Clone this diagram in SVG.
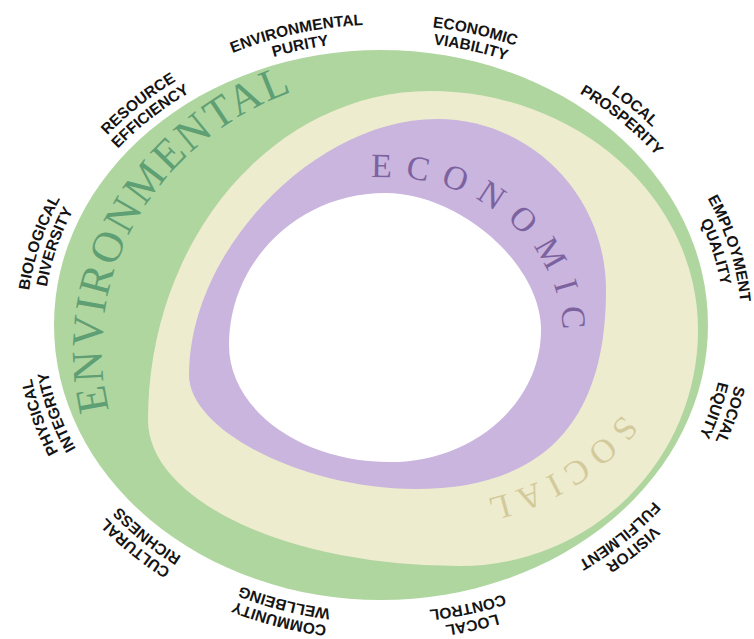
<svg xmlns="http://www.w3.org/2000/svg" width="754" height="639" viewBox="0 0 754 639">
<style>
.lbl{font-family:"Liberation Sans",Arial,sans-serif;font-weight:bold;font-size:15.5px;fill:#141414;text-anchor:middle}
.big{font-family:"Liberation Serif","Times New Roman",serif}
.env{font-size:44px;fill:#5f9f74;letter-spacing:2px}
.eco{font-size:34px;fill:#7d62a0;letter-spacing:13px}
.soc{font-size:34px;fill:#d3ca9c;letter-spacing:8px}
</style>
<defs>
<path id="p-env" d="M109,410 A298,277 0 0 1 400,73"/>
<path id="p-eco" d="M371,177.6 A178,158 0 0 1 563,335 A178,158 0 0 1 385,493"/>
<path id="p-soc" d="M622,414 A240,188 0 0 1 415,508 A240,188 0 0 1 175,320"/>
<path id="a1o" d="M91.5,153.8 A357,302 0 0 1 534.9,53.3"/>
<path id="a1i" d="M103.8,162.4 A342,287 0 0 1 528.5,66.9"/>
<path id="a2o" d="M236.5,52 A357,302 0 0 1 678.6,156.4"/>
<path id="a2i" d="M242.7,65.6 A342,287 0 0 1 666.2,164.8"/>
<path id="a3o" d="M421.3,26.7 A357,302 0 0 1 740.1,305.9"/>
<path id="a3i" d="M419.7,41.6 A342,287 0 0 1 725.2,307"/>
<path id="a4o" d="M593.8,82.7 A357,302 0 0 1 704.9,459.4"/>
<path id="a4i" d="M585,94.8 A342,287 0 0 1 691.4,452.8"/>
<path id="a5o" d="M708.9,201.8 A357,302 0 0 1 586.2,575.9"/>
<path id="a5i" d="M695.2,208 A342,287 0 0 1 577.7,563.5"/>
<path id="a6o" d="M739.9,350.7 A357,302 0 0 1 418.2,627.6"/>
<path id="a6i" d="M724.9,349.5 A342,287 0 0 1 416.8,612.7"/>
<path id="a7o" d="M676.5,500.2 A357,302 0 0 1 233.1,600.7"/>
<path id="a7i" d="M664.2,491.6 A342,287 0 0 1 239.5,587.1"/>
<path id="a8o" d="M517.7,607 A357,302 0 0 1 81.3,487"/>
<path id="a8i" d="M512.1,593.1 A342,287 0 0 1 94,479.1"/>
<path id="a9o" d="M348.5,627.5 A357,302 0 0 1 28,349.7"/>
<path id="a9i" d="M350,612.6 A342,287 0 0 1 43,348.5"/>
<path id="a10o" d="M184.4,577.4 A357,302 0 0 1 57.9,204.2"/>
<path id="a10i" d="M192.8,564.9 A342,287 0 0 1 71.6,210.3"/>
<path id="a11o" d="M60.5,454.6 A357,302 0 0 1 179.2,79.6"/>
<path id="a11i" d="M74,448.3 A342,287 0 0 1 187.8,91.9"/>
<path id="a12o" d="M28.4,300.7 A357,302 0 0 1 352.9,26.1"/>
<path id="a12i" d="M43.3,302 A342,287 0 0 1 354.2,41.1"/>
</defs>
<rect width="754" height="639" fill="#ffffff"/>
<g id="rings">
<ellipse id="ring-environmental" cx="381" cy="325" rx="327" ry="275" fill="#b0d6a0"/>
<path id="ring-social" d="M430,91 A268,239 0 0 1 698,330 A238,236 0 0 1 460,566 A312,146 0 0 1 148,420 A282,329 0 0 1 430,91 Z" fill="#eeecce"/>
<path id="ring-economic" d="M437,119 C530.3,119 606,195.6 606,290 C606,422.7 542.4,489 415,489 C304.3,489 189,430.9 189,375 C189,249.6 315.5,119 437,119 Z" fill="#c9b5de"/>
<path id="core" d="M385,193 C459.9,193 541,264.2 541,330 C541,402.9 473.4,462 390,462 C301.1,462 229,409.6 229,345 C229,261.1 298.9,193 385,193 Z" fill="#ffffff"/>
</g>
<g id="ring-titles">
<text class="big env"><textPath href="#p-env">ENVIRONMENTAL</textPath></text>
<text class="big eco"><textPath href="#p-eco">ECONOMIC</textPath></text>
<text class="big soc"><textPath href="#p-soc">SOCIAL</textPath></text>
</g>
<g id="labels">
<g id="lbl-environmental-purity"><text class="lbl" dy="-0.5"><textPath href="#a1o" startOffset="50%">ENVIRONMENTAL</textPath></text><text class="lbl" dy="1.5"><textPath href="#a1i" startOffset="50%">PURITY</textPath></text></g>
<g id="lbl-economic-viability"><text class="lbl" dy="-0.5"><textPath href="#a2o" startOffset="50%">ECONOMIC</textPath></text><text class="lbl" dy="1.5"><textPath href="#a2i" startOffset="50%">VIABILITY</textPath></text></g>
<g id="lbl-local-prosperity"><text class="lbl" dy="-0.5"><textPath href="#a3o" startOffset="50%">LOCAL</textPath></text><text class="lbl" dy="1.5"><textPath href="#a3i" startOffset="50%">PROSPERITY</textPath></text></g>
<g id="lbl-employment-quality"><text class="lbl" dy="-0.5"><textPath href="#a4o" startOffset="50%">EMPLOYMENT</textPath></text><text class="lbl" dy="1.5"><textPath href="#a4i" startOffset="50%">QUALITY</textPath></text></g>
<g id="lbl-social-equity"><text class="lbl" dy="-0.5"><textPath href="#a5o" startOffset="50%">SOCIAL</textPath></text><text class="lbl" dy="1.5"><textPath href="#a5i" startOffset="50%">EQUITY</textPath></text></g>
<g id="lbl-visitor-fulfilment"><text class="lbl" dy="-0.5"><textPath href="#a6o" startOffset="50%">VISITOR</textPath></text><text class="lbl" dy="1.5"><textPath href="#a6i" startOffset="50%">FULFILMENT</textPath></text></g>
<g id="lbl-local-control"><text class="lbl" dy="-0.5"><textPath href="#a7o" startOffset="50%">LOCAL</textPath></text><text class="lbl" dy="1.5"><textPath href="#a7i" startOffset="50%">CONTROL</textPath></text></g>
<g id="lbl-community-wellbeing"><text class="lbl" dy="-0.5"><textPath href="#a8o" startOffset="50%">COMMUNITY</textPath></text><text class="lbl" dy="1.5"><textPath href="#a8i" startOffset="50%">WELLBEING</textPath></text></g>
<g id="lbl-cultural-richness"><text class="lbl" dy="-0.5"><textPath href="#a9o" startOffset="50%">CULTURAL</textPath></text><text class="lbl" dy="1.5"><textPath href="#a9i" startOffset="50%">RICHNESS</textPath></text></g>
<g id="lbl-physical-integrity"><text class="lbl" dy="-0.5"><textPath href="#a10o" startOffset="50%">PHYSICAL</textPath></text><text class="lbl" dy="1.5"><textPath href="#a10i" startOffset="50%">INTEGRITY</textPath></text></g>
<g id="lbl-biological-diversity"><text class="lbl" dy="-0.5"><textPath href="#a11o" startOffset="50%">BIOLOGICAL</textPath></text><text class="lbl" dy="1.5"><textPath href="#a11i" startOffset="50%">DIVERSITY</textPath></text></g>
<g id="lbl-resource-efficiency"><text class="lbl" dy="-0.5"><textPath href="#a12o" startOffset="50%">RESOURCE</textPath></text><text class="lbl" dy="1.5"><textPath href="#a12i" startOffset="50%">EFFICIENCY</textPath></text></g>
</g>
</svg>
